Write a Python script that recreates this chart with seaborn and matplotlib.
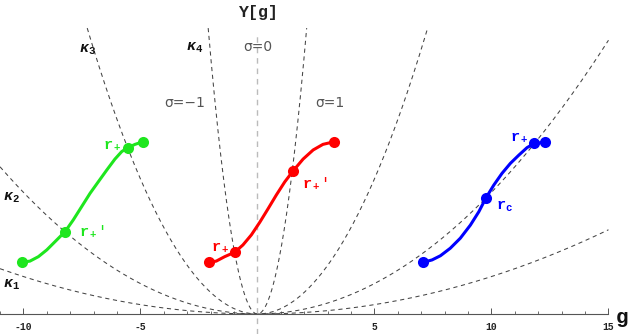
import numpy as np
import pandas as pd
import matplotlib
matplotlib.use("Agg")
import matplotlib.pyplot as plt
import seaborn as sns
from matplotlib.ticker import MultipleLocator, FixedLocator

sns.set_theme(style="white")
plt.rcParams['font.family'] = ['Liberation Mono', 'DejaVu Sans']
plt.rcParams['mathtext.fontset'] = 'custom'
plt.rcParams['mathtext.rm'] = 'Liberation Mono:bold'
plt.rcParams['mathtext.it'] = 'Liberation Mono:bold:italic'
plt.rcParams['mathtext.bf'] = 'Liberation Mono:bold'

# ---- data ----
green_g = [-10.07, -9.72, -9.36, -9.00, -8.65, -8.22, -7.87, -7.51, -7.15, -6.80,
           -6.44, -6.09, -5.80, -5.54, -5.23, -4.90]
green_y = [2.21, 2.26, 2.45, 2.74, 3.09, 3.52, 4.02, 4.59, 5.16, 5.65,
           6.15, 6.62, 6.94, 7.11, 7.25, 7.36]
red_g = [-2.07, -1.76, -1.40, -0.97, -0.62, -0.26, 0.10, 0.45, 0.81, 1.17,
         1.52, 1.95, 2.38, 2.80, 3.27]
red_y = [2.21, 2.26, 2.45, 2.64, 2.95, 3.38, 3.92, 4.49, 5.09, 5.65,
         6.11, 6.62, 7.01, 7.25, 7.36]
blue_g = [7.08, 7.46, 7.82, 8.24, 8.67, 9.10, 9.46, 9.77, 10.10, 10.45,
          10.81, 11.17, 11.52, 11.83, 12.30]
blue_y = [2.21, 2.31, 2.49, 2.81, 3.24, 3.80, 4.37, 4.97, 5.51, 6.01,
          6.44, 6.79, 7.11, 7.29, 7.34]

# marked points (g, y)
green_pts_g = [-10.07, -8.22, -5.54, -4.90]
green_pts_y = [2.21, 3.52, 7.11, 7.36]
red_pts_g = [-2.07, -0.97, 1.52, 3.27]
red_pts_y = [2.21, 2.64, 6.11, 7.36]
blue_pts_g = [7.08, 9.77, 11.83, 12.30]
blue_pts_y = [2.21, 4.97, 7.29, 7.34]

# parabola coefficients of the kappa reference curves  (y = k g^2)
kappa_k = [0.016, 0.052, 0.231, 2.76]

major_ticks = [-10, -5, 5, 10, 15]
tick_labels = ['-10', '-5', '5', '10', '15']

GREEN = '#1ee61e'
RED = '#ff0000'
BLUE = '#0000ff'

fig = plt.figure(figsize=(6.30, 3.34), dpi=100)
ax = fig.add_axes([0, 0, 1, 1])
ax.set_xlim(-11.0, 15.92)
ax.set_ylim(-0.855, 13.42)

# kappa dashed parabolas
ytop = 12.22
for k in kappa_k:
    gmax = min(np.sqrt(ytop / k), 15.0)
    gmin = -min(np.sqrt(ytop / k), 11.0)
    g = np.linspace(gmin, gmax, 400)
    ax.plot(g, k * g ** 2, ls=(0, (4, 3.5)), color='#444444', lw=0.75, zorder=1)

# sigma = 0 vertical line
ax.plot([0, 0], [-0.855, 12.05], ls=(0, (4, 3.5)), color='#bbbbbb', lw=1.0, zorder=1)

# curves
for gx, gy, c in [(green_g, green_y, GREEN), (red_g, red_y, RED), (blue_g, blue_y, BLUE)]:
    df = pd.DataFrame({'g': gx, 'y': gy})
    sns.lineplot(data=df, x='g', y='y', sort=False, color=c, lw=2.2, ax=ax, zorder=3)

for gx, gy, c in [(green_pts_g, green_pts_y, GREEN), (red_pts_g, red_pts_y, RED), (blue_pts_g, blue_pts_y, BLUE)]:
    dfp = pd.DataFrame({'g': gx, 'y': gy})
    sns.scatterplot(data=dfp, x='g', y='y', color=c, s=64, edgecolor=c, linewidth=0, ax=ax, zorder=4)

# axis
for s in ['top', 'right', 'left']:
    ax.spines[s].set_visible(False)
ax.spines['bottom'].set_position(('data', 0))
ax.spines['bottom'].set_bounds(-11, 15)
ax.spines['bottom'].set_color('#555555')
ax.spines['bottom'].set_linewidth(0.8)
ax.xaxis.set_major_locator(FixedLocator(major_ticks))
ax.xaxis.set_minor_locator(MultipleLocator(1))
ax.set_xticklabels(tick_labels)
ax.tick_params(axis='x', which='major', direction='in', length=4, width=0.7, color='#555555',
               labelsize=7, pad=6, labelcolor='#222222', bottom=True)
ax.tick_params(axis='x', which='minor', direction='in', length=2.5, width=0.6, color='#555555', bottom=True)
for t in ax.get_xticklabels():
    t.set_fontweight('bold')
ax.set_yticks([])
ax.set_xlabel('')
ax.set_ylabel('')

# texts
ax.text(0.03, 12.9, 'Υ[g]', ha='center', va='center', fontsize=12, fontweight='bold', color='#222222')
ax.text(15.58, -0.17, 'g', ha='center', va='center', fontsize=15, fontweight='bold', color='#111111')
sig_kw = dict(ha='center', va='center', fontsize=10, color='#555555', family=['DejaVu Sans'])
ax.text(0.03, 11.41, 'σ=0', **sig_kw)
ax.text(-3.09, 9.02, 'σ=−1', **sig_kw)
ax.text(3.10, 9.02, 'σ=1', **sig_kw)

kap_kw = dict(ha='center', va='center', fontsize=11, color='#111111')
ax.text(-10.49, 1.24, r'$\kappa_\mathrm{1}$', **kap_kw)
ax.text(-10.49, 4.96, r'$\kappa_\mathrm{2}$', **kap_kw)
ax.text(-7.24, 11.28, r'$\kappa_\mathrm{3}$', **kap_kw)
ax.text(-2.67, 11.37, r'$\kappa_\mathrm{4}$', **kap_kw)

lab_kw = dict(ha='center', va='center', fontsize=11)
ax.text(-6.21, 7.22, r'$\mathrm{r}_+$', color=GREEN, **lab_kw)
ax.text(-7.07, 3.55, r"$\mathrm{r}_+$'", color=GREEN, **lab_kw)
ax.text(-1.60, 2.86, r'$\mathrm{r}_+$', color=RED, **lab_kw)
ax.text(2.46, 5.60, r"$\mathrm{r}_+$'", color=RED, **lab_kw)
ax.text(11.18, 7.56, r'$\mathrm{r}_+$', color=BLUE, **lab_kw)
ax.text(10.54, 4.60, r'$\mathrm{r}_\mathrm{c}$', color=BLUE, **lab_kw)

fig.savefig('out.png', dpi=100)
